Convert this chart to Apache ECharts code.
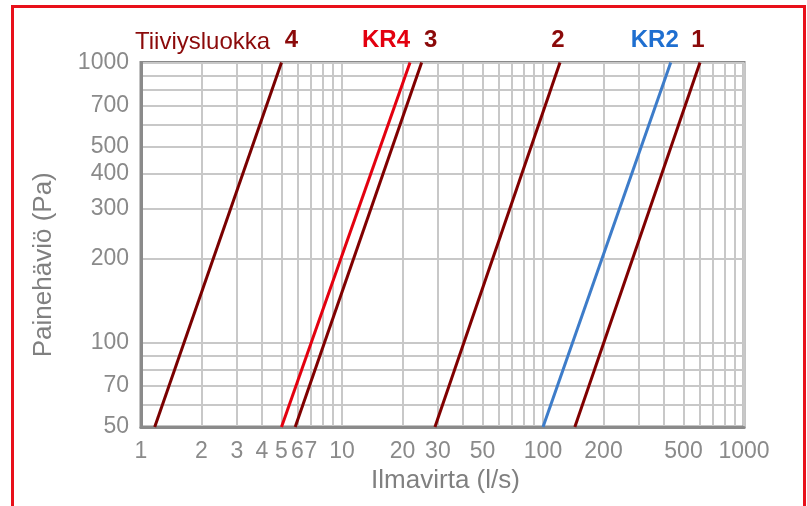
<!DOCTYPE html>
<html>
<head>
<meta charset="utf-8">
<script src="https://cdn.jsdelivr.net/npm/echarts@6/dist/echarts.min.js"></script>
<style>
    html, body { margin: 0; padding: 0; background: #fff; }
    #chart { width: 807px; height: 506px; }
</style>
</head>
<body>
<div id="chart"></div>
<script>
    // tiiviysluokat ja ilmavirta (l/s) painehäviön ääripäissä
    const classNames = ['4', 'KR4', '3', '2', 'KR2', '1'];
    const pressureEnds = [50, 1000];          // Pa
    const flowAt50 = [1.17, 5.0, 5.85, 29, 100, 144];
    const flowAt1000 = [5.0, 21.8, 24.9, 121.5, 432, 604];

    // akselien jaot
    const xTickLabels = [1, 2, 3, 4, 5, 6, 7, 10, 20, 30, 50, 100, 200, 500, 1000];
    const xGridValues = [1, 2, 3, 4, 5, 6, 7, 8, 9, 10, 20, 30, 40, 50, 60, 70, 80, 90,
        100, 200, 300, 400, 500, 600, 700, 800, 900, 1000];
    const yTickLabels = [50, 70, 100, 200, 300, 400, 500, 700, 1000];
    const yGridValues = [50, 60, 70, 80, 90, 100, 200, 300, 400, 500, 600, 700, 800, 900, 1000];

    const FONT = '"Liberation Sans", Arial, sans-serif';
    const DARK = '#800000';
    const lineColors = {'4': '#7a0000', 'KR4': '#e3000f', '3': DARK, '2': DARK, 'KR2': '#3d7cc9', '1': DARK};
    const labelColors = {'4': '#8b0a0a', 'KR4': '#e3000f', '3': '#8b0a0a', '2': '#8b0a0a', 'KR2': '#1f6fd0', '1': '#8b0a0a'};
    const labelShift = {'4': [10, -22], 'KR4': [-24, -22], '3': [9, -22], '2': [-2, -22], 'KR2': [-16, -22], '1': [-2, -22]};

    const series = classNames.map((name, i) => ({
        name: name,
        type: 'line',
        symbol: 'circle',
        symbolSize: 0,
        showSymbol: true,
        clip: false,
        lineStyle: {color: lineColors[name], width: 3},
        itemStyle: {color: lineColors[name]},
        data: [
            [flowAt50[i], pressureEnds[0]],
            {
                value: [flowAt1000[i], pressureEnds[1]],
                label: {
                    show: true,
                    position: 'inside',
                    offset: labelShift[name],
                    formatter: name,
                    color: labelColors[name],
                    fontFamily: FONT,
                    fontWeight: 'bold',
                    fontSize: 24
                }
            }
        ]
    }));

    const myChart = echarts.init(document.getElementById('chart'));
    myChart.setOption({
        animation: false,
        grid: {
            left: 141, right: 63, top: 62.5, bottom: 79,
            show: true, borderColor: '#8a8a8a', borderWidth: 3
        },
        xAxis: {
            type: 'log',
            logBase: 10,
            min: 1,
            max: 1000,
            name: 'Ilmavirta (l/s)',
            nameLocation: 'middle',
            nameGap: 35,
            nameTextStyle: {color: '#808080', fontSize: 26, fontFamily: FONT, padding: [0, 0, 0, 6]},
            axisLine: {show: true, lineStyle: {color: '#8a8a8a', width: 3}},
            axisTick: {show: false, customValues: xGridValues},
            axisLabel: {
                customValues: xTickLabels,
                margin: 13,
                color: '#8a8a8a',
                fontSize: 23,
                fontFamily: FONT,
                formatter: v => String(Math.round(v))
            },
            splitLine: {show: true, lineStyle: {color: '#c8c8c8', width: 2}}
        },
        yAxis: {
            type: 'log',
            logBase: 10,
            min: 50,
            max: 1000,
            name: 'Painehäviö (Pa)',
            nameLocation: 'middle',
            nameGap: 84,
            nameTextStyle: {color: '#808080', fontSize: 26, fontFamily: FONT, padding: [0, 40, 0, 0]},
            axisLine: {show: true, lineStyle: {color: '#8a8a8a', width: 3}},
            axisTick: {show: false, customValues: yGridValues},
            axisLabel: {
                customValues: yTickLabels,
                margin: 12,
                color: '#8a8a8a',
                fontSize: 23,
                fontFamily: FONT,
                formatter: v => String(Math.round(v))
            },
            splitLine: {show: true, lineStyle: {color: '#c8c8c8', width: 2}}
        },
        graphic: [
            {
                type: 'rect',
                left: 10, top: 4,
                shape: {width: 792, height: 520},
                style: {fill: 'none', stroke: '#e8101a', lineWidth: 3},
                silent: true
            },
            {
                type: 'text',
                left: 135, top: 30,
                style: {text: 'Tiiviysluokka', fill: '#8b0a0a', font: '24px ' + FONT}
            }
        ],
        series: series
    });
</script>
</body>
</html>
